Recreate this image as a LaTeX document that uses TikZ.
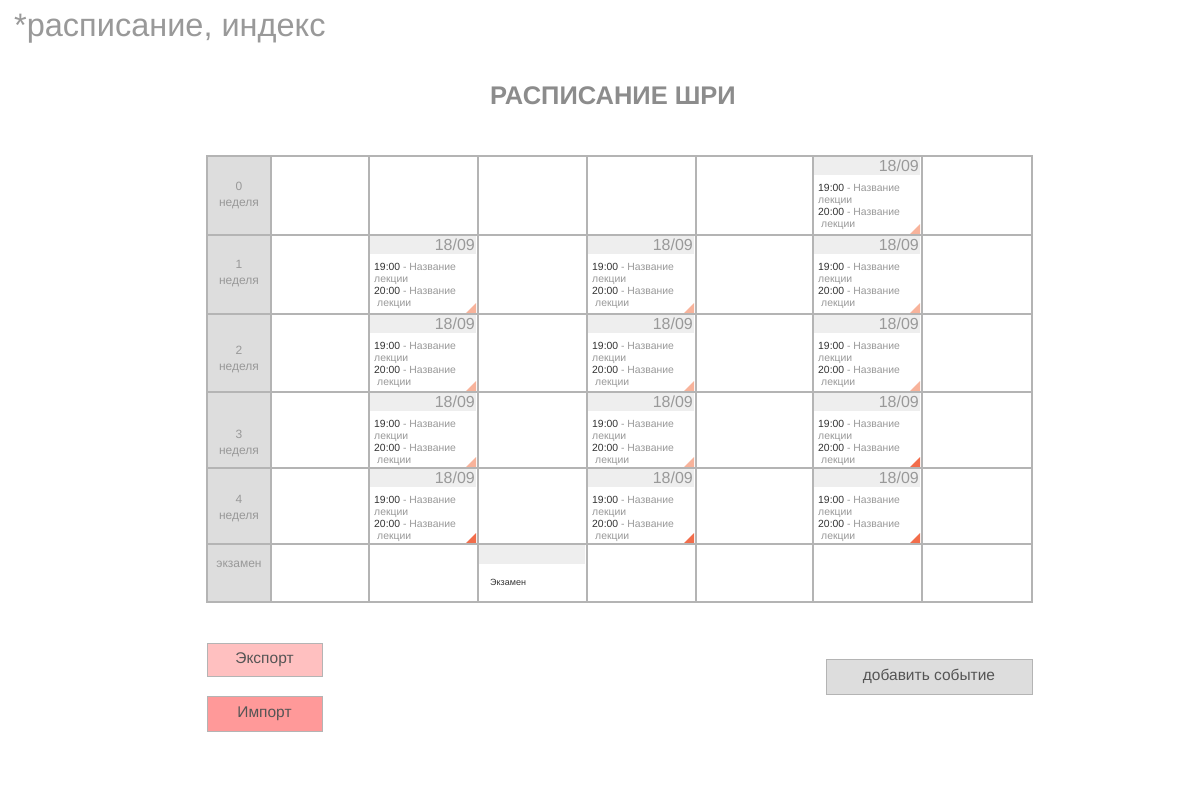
\documentclass[tikz,border=0pt]{standalone}
\usepackage{fontspec}
\setmainfont{Liberation Sans}
\usetikzlibrary{positioning}
\usepackage{xcolor}
\definecolor{gridgray}{HTML}{B4B4B4}
\definecolor{weekfill}{HTML}{DDDDDD}
\definecolor{headfill}{HTML}{EEEEEE}
\definecolor{softtext}{HTML}{999999}
\definecolor{darktext}{HTML}{333333}
\definecolor{lighttri}{HTML}{F8B39B}
\definecolor{darktri}{HTML}{F26D4B}
\definecolor{exportfill}{HTML}{FFC0C0}
\definecolor{importfill}{HTML}{FF9999}
\definecolor{btntext}{HTML}{555555}

\begin{document}
\begin{tikzpicture}[
    x=1pt, y=-1pt,
    cellline/.style = {draw=gridgray, line width=1.1pt},
    weektext/.style = {font=\fontsize{12}{16}\selectfont, text=softtext, align=center},
    datetext/.style = {font=\fontsize{16}{16}\selectfont, text=softtext, inner sep=0pt},
    lecttext/.style = {font=\fontsize{10.4}{12}\selectfont, text=softtext, inner sep=0pt},
    button/.style = {draw=gridgray, line width=1pt, font=\fontsize{15.5}{16}\selectfont, text=btntext, inner sep=0pt}
]

% Page size and background
\useasboundingbox (0,0) rectangle (1200,800);
\fill[white] (0,0) rectangle (1200,800);

% Page name and title
\node[anchor=base west, inner sep=0pt, text=softtext, font=\fontsize{32.5}{32}\selectfont] (pagename) at (14,37) {*расписание, индекс};
\node[text=black!45, font=\fontsize{25.5}{26}\selectfont\bfseries] (title) at (613,96) {РАСПИСАНИЕ ШРИ};

% Week column
\fill[weekfill] (207,156) rectangle (271,602);
\node[weektext] (week0) at (239,196) {0\\неделя};
\node[weektext] (week1) at (239,274) {1\\неделя};
\node[weektext] (week2) at (239,360) {2\\неделя};
\node[weektext] (week3) at (239,444) {3\\неделя};
\node[weektext] (week4) at (239,509) {4\\неделя};
\node[weektext] (exam) at (239,564) {экзамен};

% Lecture cards: column / row top / row bottom / corner colour
\foreach \c/\r/\b/\tri in {813/156/235/lighttri,
    369/235/314/lighttri, 587/235/314/lighttri, 813/235/314/lighttri,
    369/314/392/lighttri, 587/314/392/lighttri, 813/314/392/lighttri,
    369/392/468/lighttri, 587/392/468/lighttri, 813/392/468/darktri,
    369/468/544/darktri, 587/468/544/darktri, 813/468/544/darktri} {
  \fill[headfill] (\c,\r) rectangle ++(107,19);
  \node[datetext, anchor=base east] (date-\c-\r) at (\c+106,\r+15) {18/09};
  \node[lecttext, anchor=base west] (first-\c-\r) at (\c+5,\r+35.5) {\textcolor{darktext}{19:00} - Название};
  \node[lecttext, anchor=base west] (firstb-\c-\r) at (\c+5,\r+47.5) {лекции};
  \node[lecttext, anchor=base west] (second-\c-\r) at (\c+5,\r+59.5) {\textcolor{darktext}{20:00} - Название};
  \node[lecttext, anchor=base west] (secondb-\c-\r) at (\c+8,\r+71) {лекции};
  \fill[\tri] (\c+107,\b-11) -- (\c+107,\b-1) -- (\c+97,\b-1) -- cycle;
}

% Exam card
\fill[headfill] (478,544) rectangle (585,564);
\node[anchor=base west, inner sep=0pt, text=darktext, font=\fontsize{9}{9}\selectfont] (examcard) at (490,585) {Экзамен};

% Grid lines
\foreach \ya in {235,314,392,468,544}
  \draw[cellline] (207,\ya) -- (1032,\ya);
\foreach \xa in {271,369,478,587,696,813,922}
  \draw[cellline] (\xa,156) -- (\xa,602);
\draw[cellline] (207,156) rectangle (1032,602);

% Buttons
\node[button, fill=exportfill, minimum width=115pt, minimum height=33pt] (export) at (264.5,659.5) {Экспорт};
\node[button, fill=importfill, minimum width=115pt, minimum height=35pt, below=19pt of export] (import) {Импорт};
\node[button, fill=weekfill, minimum width=206pt, minimum height=35pt] (addevent) at (929,676.5) {добавить событие};

\end{tikzpicture}
\end{document}
